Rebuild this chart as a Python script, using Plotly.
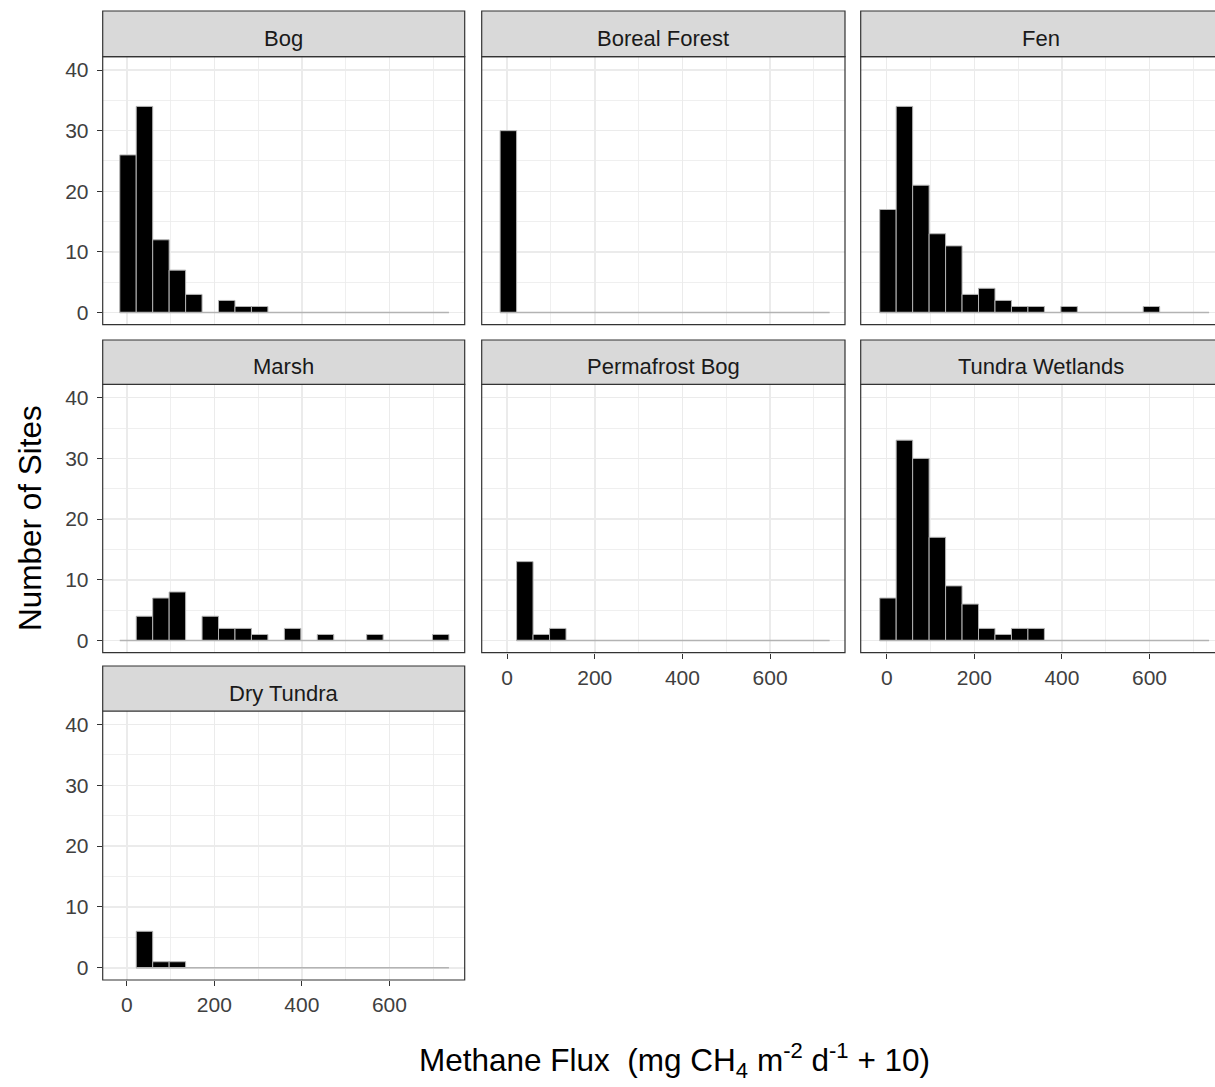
import plotly.graph_objects as go

# ---------------- data ----------------
BIN_START = -16.0      # left edge of first histogram bin
BIN_WIDTH = 37.6       # histogram bin width
N_BINS = 20

PANELS = ["Bog", "Boreal Forest", "Fen", "Marsh", "Permafrost Bog",
          "Tundra Wetlands", "Dry Tundra"]

BOG = [26, 34, 12, 7, 3, 0, 2, 1, 1, 0, 0, 0, 0, 0, 0, 0, 0, 0, 0, 0]
BOREAL_FOREST = [30, 0, 0, 0, 0, 0, 0, 0, 0, 0, 0, 0, 0, 0, 0, 0, 0, 0, 0, 0]
FEN = [17, 34, 21, 13, 11, 3, 4, 2, 1, 1, 0, 1, 0, 0, 0, 0, 1, 0, 0, 0]
MARSH = [0, 4, 7, 8, 0, 4, 2, 2, 1, 0, 2, 0, 1, 0, 0, 1, 0, 0, 0, 1]
PERMAFROST_BOG = [None, 13, 1, 2, 0, 0, 0, 0, 0, 0, 0, 0, 0, 0, 0, 0, 0, 0, 0, 0]
TUNDRA_WETLANDS = [7, 33, 30, 17, 9, 6, 2, 1, 2, 2, 0, 0, 0, 0, 0, 0, 0, 0, 0, 0]
DRY_TUNDRA = [None, 6, 1, 1, 0, 0, 0, 0, 0, 0, 0, 0, 0, 0, 0, 0, 0, 0, 0, 0]

COUNTS = [BOG, BOREAL_FOREST, FEN, MARSH, PERMAFROST_BOG, TUNDRA_WETLANDS, DRY_TUNDRA]

X_TICKS = [0, 200, 400, 600]
X_MINOR = [100, 300, 500, 700]
Y_TICKS = [0, 10, 20, 30, 40]
Y_MINOR = [5, 15, 25, 35]

Y_TITLE = "Number of Sites"
X_TITLE = "Methane Flux&nbsp;&nbsp;(mg CH<sub>4</sub> m<sup>-2</sup> d<sup>-1</sup> + 10)"

# ---------------- layout geometry (pixels) ----------------
W, H = 1215, 1087
COLS_PX = [(102.7, 464.7), (481.7, 845.0), (860.7, 1215.0)]
COL_BORDER_RIGHT = [464.7, 845.0, 1222.0]
COL_RANGES = [(-55, 772), (-58, 771), (-59.4, 749.5)]
ROWS_PX = [(56.7, 324.7), (384.3, 652.7), (711.0, 980.0)]
STRIPS_PX = [(11.0, 56.7), (340.0, 384.3), (666.0, 711.0)]
STRIP_TEXT_DY = 4.5
Y_RANGE = (-2.0, 42.2)

FONT = "Liberation Sans, Arial, sans-serif"
BAR_EDGE = "#b3b3b3"
GRID = "#ebebeb"
DARK = "#333333"
TICK_SIZE = 21
STRIP_SIZE = 22
TITLE_SIZE = 31.5

def px_x(v):
    return v / W

def px_y(v):
    return 1 - v / H

fig = go.Figure()
centers = [BIN_START + BIN_WIDTH * (i + 0.5) for i in range(N_BINS)]
bottom_of_col = {0: 6, 1: 4, 2: 5}

shapes = []
annotations = []
layout_axes = {}

for p, (name, counts) in enumerate(zip(PANELS, COUNTS)):
    r, c = divmod(p, 3)
    n = p + 1
    xa = "x" if n == 1 else f"x{n}"
    ya = "y" if n == 1 else f"y{n}"

    idx = [i for i, v in enumerate(counts) if v is not None]
    x0 = BIN_START + BIN_WIDTH * idx[0]
    x1 = BIN_START + BIN_WIDTH * (idx[-1] + 1)
    fig.add_trace(go.Scatter(x=[x0, x1], y=[0, 0], mode="lines",
                             line=dict(color=BAR_EDGE, width=1.5),
                             xaxis=xa, yaxis=ya, hoverinfo="skip",
                             showlegend=False))
    nz = [i for i in idx if counts[i] > 0]
    fig.add_trace(go.Bar(x=[centers[i] for i in nz], y=[counts[i] for i in nz],
                         width=BIN_WIDTH,
                         marker=dict(color="black", line=dict(color=BAR_EDGE, width=1)),
                         xaxis=xa, yaxis=ya, showlegend=False))

    cx0, cx1 = COLS_PX[c]
    ry0, ry1 = ROWS_PX[r]
    show_x = bottom_of_col[c] == p
    show_y = c == 0

    layout_axes["xaxis" if n == 1 else f"xaxis{n}"] = dict(
        domain=[px_x(cx0), px_x(cx1)], range=list(COL_RANGES[c]),
        anchor=ya, tickmode="array", tickvals=X_TICKS,
        showticklabels=show_x, ticks="outside" if show_x else "",
        ticklen=5, tickwidth=1, tickcolor=DARK,
        tickfont=dict(family=FONT, size=TICK_SIZE, color="#404040"),
        ticklabelstandoff=1,
        showgrid=True, gridcolor=GRID, gridwidth=1.5,
        minor=dict(tickmode="array", tickvals=X_MINOR, showgrid=True,
                   gridcolor=GRID, gridwidth=0.8, ticks=""),
        zeroline=False, showline=False, fixedrange=True)
    layout_axes["yaxis" if n == 1 else f"yaxis{n}"] = dict(
        domain=[px_y(ry1), px_y(ry0)], range=list(Y_RANGE),
        anchor=xa, tickmode="array", tickvals=Y_TICKS,
        showticklabels=show_y, ticks="outside" if show_y else "",
        ticklen=5, tickwidth=1, tickcolor=DARK,
        tickfont=dict(family=FONT, size=TICK_SIZE, color="#404040"),
        ticklabelstandoff=4,
        showgrid=True, gridcolor=GRID, gridwidth=1.5,
        minor=dict(tickmode="array", tickvals=Y_MINOR, showgrid=True,
                   gridcolor=GRID, gridwidth=0.8, ticks=""),
        zeroline=False, showline=False, fixedrange=True)

    # panel border
    shapes.append(dict(type="rect", xref="paper", yref="paper",
                       x0=px_x(cx0), x1=px_x(COL_BORDER_RIGHT[c]),
                       y0=px_y(ry1), y1=px_y(ry0),
                       line=dict(color=DARK, width=1.2), fillcolor="rgba(0,0,0,0)",
                       layer="above"))
    # strip
    sy0, sy1 = STRIPS_PX[r]
    shapes.append(dict(type="rect", xref="paper", yref="paper",
                       x0=px_x(cx0), x1=px_x(COL_BORDER_RIGHT[c]),
                       y0=px_y(sy1), y1=px_y(sy0),
                       line=dict(color=DARK, width=1.2), fillcolor="#d9d9d9",
                       layer="above"))
    annotations.append(dict(text=name, xref="paper", yref="paper",
                            x=px_x((cx0 + COL_BORDER_RIGHT[c]) / 2),
                            y=px_y((sy0 + sy1) / 2 + STRIP_TEXT_DY),
                            showarrow=False, xanchor="center", yanchor="middle",
                            font=dict(family=FONT, size=STRIP_SIZE, color="#1a1a1a")))

annotations.append(dict(text=Y_TITLE, xref="paper", yref="paper",
                        x=px_x(30), y=px_y(518), textangle=-90,
                        showarrow=False, xanchor="center", yanchor="middle",
                        font=dict(family=FONT, size=TITLE_SIZE, color="black")))
annotations.append(dict(text=X_TITLE, xref="paper", yref="paper",
                        x=px_x(674), y=px_y(1060),
                        showarrow=False, xanchor="center", yanchor="middle",
                        font=dict(family=FONT, size=TITLE_SIZE, color="black")))

fig.update_layout(width=W, height=H, margin=dict(l=0, r=0, t=0, b=0),
                  paper_bgcolor="white", plot_bgcolor="white",
                  bargap=0, shapes=shapes, annotations=annotations,
                  showlegend=False, hovermode=False, **layout_axes)

fig.write_html("out.html", config={"displayModeBar": False, "staticPlot": True},
               post_script="document.body.style.margin='0';document.body.style.overflow='hidden';")
